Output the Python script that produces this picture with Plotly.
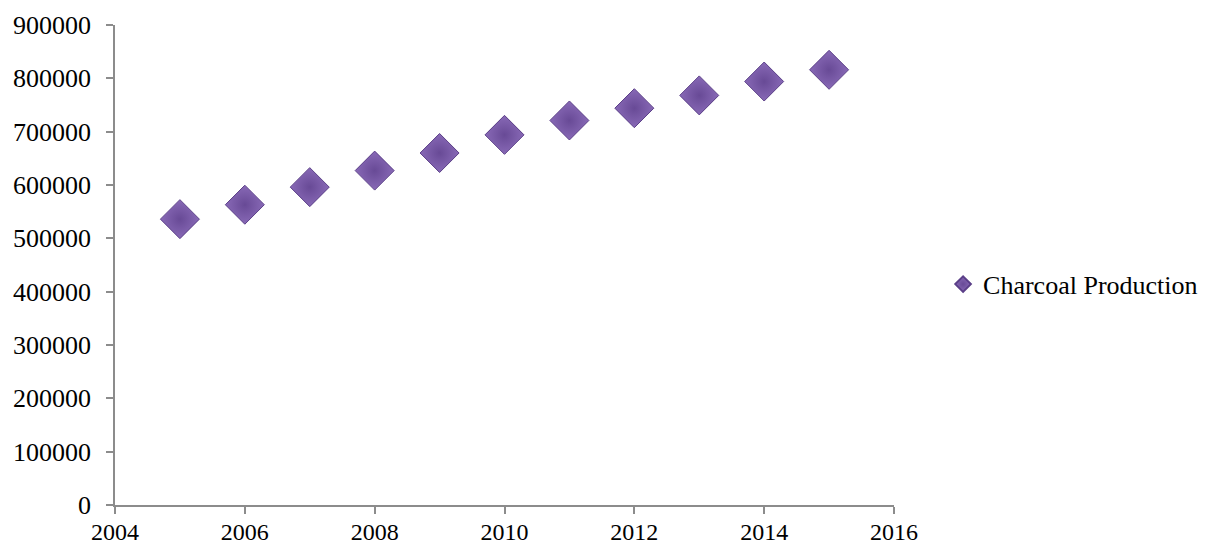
import plotly.graph_objects as go

# Annual charcoal production
years = [2005, 2006, 2007, 2008, 2009, 2010, 2011, 2012, 2013, 2014, 2015]
production = [536000, 563000, 596000, 627000, 660000, 694000, 721000, 744000, 768000, 794000, 816000]

x_ticks = [2004, 2006, 2008, 2010, 2012, 2014, 2016]
y_ticks = [0, 100000, 200000, 300000, 400000, 500000, 600000, 700000, 800000, 900000]

font_family = "Liberation Serif, Times New Roman, serif"
axis_grey = "#8c8c8c"

fig = go.Figure()
fig.add_trace(go.Scatter(
    x=years,
    y=production,
    mode="markers",
    name="Charcoal Production",
    marker=dict(
        symbol="diamond",
        size=30,
        color="#8869b6",
        gradient=dict(type="radial", color="#684a96"),
        line=dict(color="#5b3f88", width=1),
    ),
))

fig.update_layout(
    width=1205,
    height=547,
    margin=dict(l=115, r=311, t=25, b=42, autoexpand=False),
    paper_bgcolor="white",
    plot_bgcolor="white",
    font=dict(family=font_family, size=25, color="#000000"),
    showlegend=True,
    legend=dict(
        x=1.063, y=0.46, xanchor="left", yanchor="middle",
        font=dict(family=font_family, size=26, color="#000000"),
        itemsizing="constant",
        itemwidth=30,
        bgcolor="rgba(0,0,0,0)",
    ),
    xaxis=dict(
        range=[2004, 2016],
        tickmode="array",
        tickvals=x_ticks,
        ticktext=[str(v) for v in x_ticks],
        tickfont=dict(size=24),
        showgrid=False,
        zeroline=False,
        showline=True,
        linecolor=axis_grey,
        linewidth=1.5,
        ticks="outside",
        ticklen=7,
        tickcolor=axis_grey,
        tickwidth=1.5,
        automargin=False,
        ticklabelstandoff=-3,
    ),
    yaxis=dict(
        range=[0, 900000],
        tickmode="array",
        tickvals=y_ticks,
        ticktext=[str(v) for v in y_ticks],
        tickfont=dict(size=26),
        showgrid=False,
        zeroline=False,
        showline=True,
        linecolor=axis_grey,
        linewidth=1.5,
        ticks="outside",
        ticklen=7,
        tickcolor=axis_grey,
        tickwidth=1.5,
        ticklabelstandoff=10,
        automargin=False,
    ),
)

fig.write_html("out.html")
